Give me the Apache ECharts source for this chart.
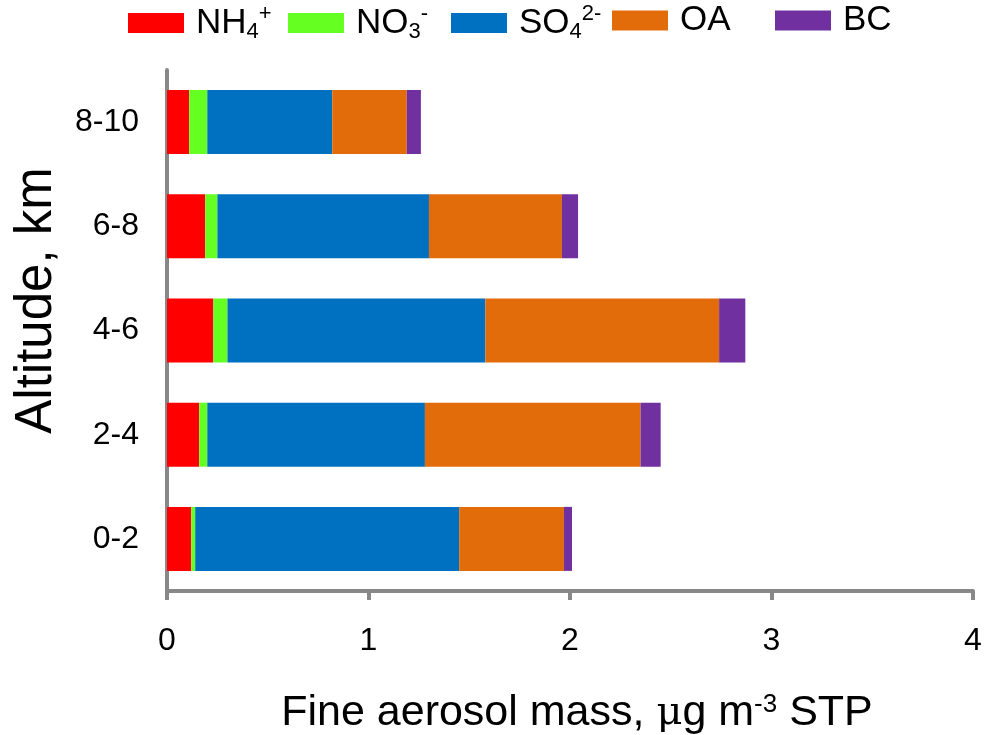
<!DOCTYPE html>
<html>
<head>
<meta charset="utf-8">
<title>Fine aerosol mass by altitude</title>
<script src="https://cdn.jsdelivr.net/npm/echarts@6/dist/echarts.min.js"></script>
<style>
  html, body { margin: 0; padding: 0; background: #fff; }
  #myChart { width: 988px; height: 735px; }
</style>
</head>
<body>
<div id="myChart"></div>
<script>
// altitude bins, bottom to top
var altitudes = ['0-2', '2-4', '4-6', '6-8', '8-10'];
var seriesNames = ['NH4+', 'NO3-', 'SO42-', 'OA', 'BC'];
var nh4 = [0.12, 0.16, 0.23, 0.19, 0.11];
var no3 = [0.02, 0.04, 0.07, 0.06, 0.09];
var so4 = [1.31, 1.08, 1.28, 1.05, 0.62];
var oa = [0.52, 1.07, 1.16, 0.66, 0.37];
var bc = [0.04, 0.10, 0.13, 0.08, 0.07];
var xTicks = [0, 1, 2, 3, 4];

var colors = ['#ff0000', '#66ff22', '#0070c0', '#e36c0a', '#7030a0'];
var values = [nh4, no3, so4, oa, bc];
var font = "'Liberation Sans', Arial, sans-serif";

// legend text with sub/superscripts
var legendText = {
  'NH4+': '{n|NH}{sub|4}{sup|+}',
  'NO3-': '{n|NO}{sub|3}{sup|-}',
  'SO42-': '{n|SO}{sub|4}{sup|2-}',
  'OA': '{n|OA}',
  'BC': '{n|BC}'
};
var legendLeft = [128, 288, 451, 612, 775];

// one legend per item so each can sit where the original has it
var legends = seriesNames.map(function (name, i) {
  return {
    data: [name],
    left: legendLeft[i],
    top: 3,
    padding: 0,
    itemWidth: 56,
    itemHeight: 20,
    icon: 'rect',
    formatter: function (n) { return legendText[n]; },
    textStyle: {
      fontFamily: font,
      rich: {
        n: { fontSize: 35, lineHeight: 40, color: '#000', fontFamily: font, padding: [0, 0, 0, 7] },
        sub: { fontSize: 22, lineHeight: 22, color: '#000', fontFamily: font, verticalAlign: 'bottom' },
        sup: { fontSize: 22, lineHeight: 22, color: '#000', fontFamily: font, verticalAlign: 'top' }
      }
    }
  };
});

var chart = echarts.init(document.getElementById('myChart'));
chart.setOption({
  animation: false,
  color: colors,
  legend: legends,
  grid: {
    left: 167,
    right: 15,
    top: 70,
    bottom: 144,
    containLabel: false,
    outerBoundsMode: 'none'
  },
  xAxis: {
    type: 'value',
    min: xTicks[0],
    max: xTicks[xTicks.length - 1],
    interval: 1,
    name: 'Fine aerosol mass, {mu|μ}g m{sup|-3} STP',
    nameLocation: 'middle',
    nameGap: 101,
    nameTextStyle: {
      fontFamily: font,
      fontSize: 43,
      color: '#000',
      padding: [0, 0, 0, 14],
      rich: {
        mu: { fontFamily: "'DejaVu Serif', serif", fontSize: 40, color: '#000' },
        sup: { fontFamily: font, fontSize: 26, color: '#000', verticalAlign: 'top', lineHeight: 26 }
      }
    },
    axisLine: { show: true, lineStyle: { color: '#888', width: 4 } },
    axisTick: { show: true, length: 9, lineStyle: { color: '#888', width: 4 } },
    splitLine: { show: false },
    axisLabel: { fontFamily: font, fontSize: 32, color: '#000', margin: 34 }
  },
  yAxis: {
    type: 'category',
    data: altitudes,
    name: 'Altitude, km',
    nameLocation: 'middle',
    nameGap: 105,
    nameTextStyle: {
      fontFamily: font,
      fontSize: 51,
      color: '#000',
      padding: [0, 0, 0, 60]
    },
    axisLine: { show: true, lineStyle: { color: '#888', width: 4 } },
    axisTick: { show: false },
    axisLabel: { fontFamily: font, fontSize: 32, color: '#000', margin: 28 }
  },
  series: seriesNames.map(function (name, i) {
    return {
      name: name,
      type: 'bar',
      stack: 'total',
      barWidth: 64,
      data: values[i],
      itemStyle: { color: colors[i] }
    };
  })
});
</script>
</body>
</html>
